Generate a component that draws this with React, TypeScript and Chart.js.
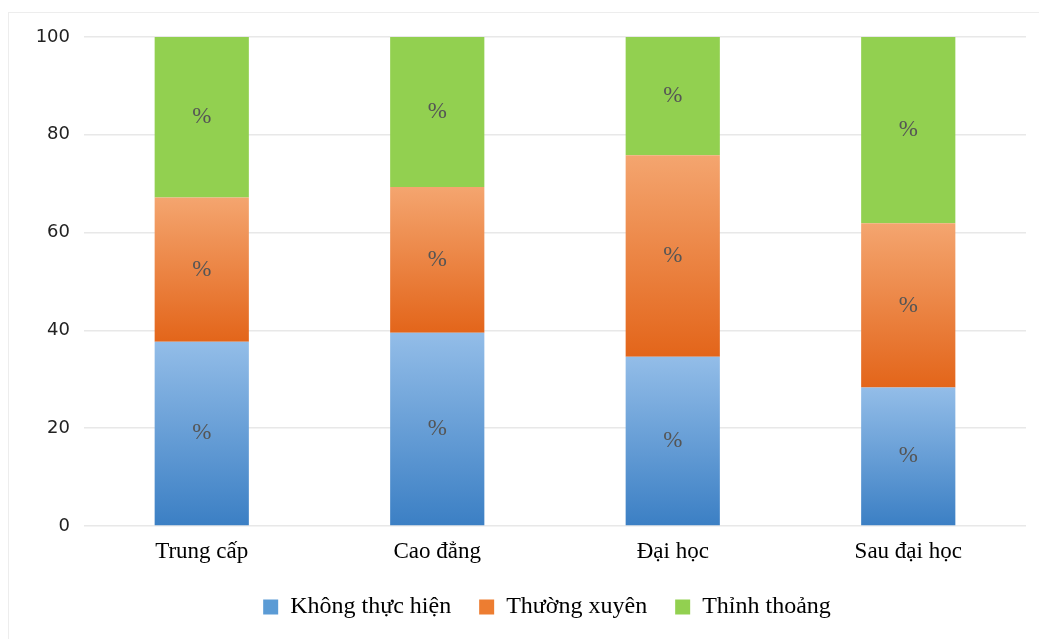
import React, { useEffect, useRef } from "react";
import { Chart, registerables } from "chart.js";

Chart.register(...registerables);

const categories = ["Trung cấp", "Cao đẳng", "Đại học", "Sau đại học"];
const seriesNames = ["Không thực hiện", "Thường xuyên", "Thỉnh thoảng"];
const khongThucHien = [37.7, 39.5, 34.6, 28.3];
const thuongXuyen = [29.5, 29.8, 41.2, 33.6];
const thinhThoang = [32.8, 30.7, 24.2, 38.1];
const yTicks = [0, 20, 40, 60, 80, 100];
const segmentLabel = "%";

const legendColors = ["#5B9BD5", "#ED7D31", "#92D050"];
const gradTop = ["#93BDE8", "#F4A56F", "#92D050"];
const gradBottom = ["#3B7FC4", "#E3651A", "#92D050"];

const allSeries = [khongThucHien, thuongXuyen, thinhThoang];

function makeBg(dsIndex: number) {
  return (ctx: any) => {
    const chart = ctx.chart;
    const area = chart.chartArea;
    if (!area || ctx.type !== "data") return legendColors[dsIndex];
    const i = ctx.dataIndex;
    let start = 0;
    for (let d = 0; d < dsIndex; d++) start += allSeries[d][i];
    const end = start + allSeries[dsIndex][i];
    const y = chart.scales.y;
    const top = y.getPixelForValue(end);
    const bottom = y.getPixelForValue(start);
    if (!isFinite(top) || !isFinite(bottom) || top === bottom) return legendColors[dsIndex];
    const g = chart.ctx.createLinearGradient(0, top, 0, bottom);
    g.addColorStop(0, gradTop[dsIndex]);
    g.addColorStop(1, gradBottom[dsIndex]);
    return g;
  };
}

const labelPlugin = {
  id: "segLabels",
  afterLayout(chart: any) {
    const lg = chart.legend;
    if (lg) {
      lg.left += 34;
      lg.right += 34;
    }
  },
  afterDatasetsDraw(chart: any) {
    const c = chart.ctx;
    c.save();
    c.font = "23px 'Liberation Serif'";
    c.fillStyle = "#555555";
    c.textAlign = "center";
    c.textBaseline = "middle";
    chart.data.datasets.forEach((_: any, di: number) => {
      const meta = chart.getDatasetMeta(di);
      meta.data.forEach((el: any) => {
        const y = (el.y + el.base) / 2;
        c.fillText(segmentLabel, el.x, y);
      });
    });
    c.restore();
  },
};

export default function App() {
  const ref = useRef<HTMLCanvasElement | null>(null);
  useEffect(() => {
    if (!ref.current) return;
    const chart = new Chart(ref.current, {
      type: "bar",
      data: {
        labels: categories,
        datasets: allSeries.map((vals, di) => ({
          label: seriesNames[di],
          data: vals,
          backgroundColor: makeBg(di),
          borderWidth: 0,
          categoryPercentage: 1,
          barPercentage: 0.4,
        })),
      },
      options: {
        responsive: false,
        animation: false,
        devicePixelRatio: 1,
        layout: { padding: { top: 37, right: 13, left: 0, bottom: 0 } },
        scales: {
          x: {
            stacked: true,
            grid: { display: false, drawTicks: false },
            border: { display: false },
            ticks: {
              padding: 12,
              color: "#000",
              font: { family: "'Liberation Serif'", size: 23 },
            },
            afterFit: (s: any) => {
              s.height = 41;
            },
          },
          y: {
            stacked: true,
            min: 0,
            max: 100,
            afterBuildTicks: (s: any) => {
              s.ticks = yTicks.map((v) => ({ value: v }));
            },
            grid: { color: "#E8E8E8", lineWidth: 1.5, drawTicks: false },
            border: { display: false },
            ticks: {
              padding: 14,
              color: "#222",
              font: { family: "'DejaVu Sans'", size: 18 },
            },
            afterFit: (s: any) => {
              s.width = 84;
            },
          },
        },
        plugins: {
          legend: {
            position: "bottom",
            labels: {
              boxWidth: 15,
              boxHeight: 15,
              padding: 28,
              color: "#000",
              font: { family: "'Liberation Serif'", size: 24 },
              generateLabels: (chart: any) =>
                chart.data.datasets.map((ds: any, i: number) => ({
                  text: ds.label,
                  fillStyle: legendColors[i],
                  strokeStyle: legendColors[i],
                  lineWidth: 0,
                  hidden: false,
                  datasetIndex: i,
                  fontColor: "#000",
                })),
            },
          },
          tooltip: { enabled: false },
        },
      },
      plugins: [labelPlugin],
    });
    return () => chart.destroy();
  }, []);

  return (
    <div
      style={{
        position: "absolute",
        left: 0,
        top: 0,
        width: 1039,
        height: 639,
        overflow: "hidden",
        background: "#fff",
      }}
    >
      <div
        style={{
          position: "absolute",
          left: 8,
          top: 12,
          right: 0,
          bottom: 0,
          borderLeft: "1px solid #EDEDED",
          borderTop: "1px solid #EDEDED",
        }}
      />
      <canvas
        ref={ref}
        width={1039}
        height={629}
        style={{ position: "absolute", left: 0, top: 0, width: 1039, height: 629 }}
      />
    </div>
  );
}
